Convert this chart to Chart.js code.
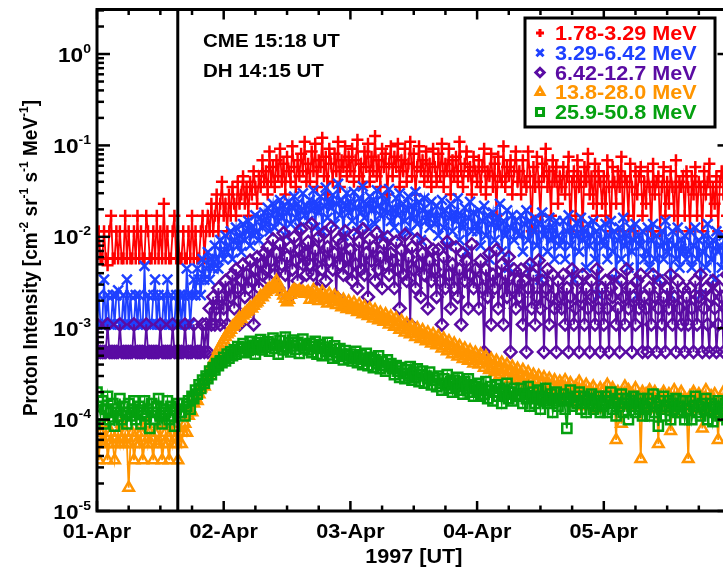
<!DOCTYPE html>
<html>
<head>
<meta charset="utf-8">
<script src="https://cdn.jsdelivr.net/npm/chart.js@4.4.1/dist/chart.umd.min.js"></script>
<style>
  html, body { margin: 0; padding: 0; background: #fff; overflow: hidden; }
  #wrap { width: 740px; height: 573px; }
</style>
</head>
<body>
<div id="wrap"><canvas id="protonChart" width="740" height="573"></canvas></div>
<script>
// 20-minute samples starting 01-Apr-1997 00:00 UT, one row = 8 hours
const STEP_H = 1 / 3;
const CME_H = 15.3;

// 1.78-3.29 MeV, units of 1e-3
const ch1 = [
  5.8, 11.5, 5.8, 5.8, 11.5, 5.8, 4.9, 11.5, 17, 5.8, 5.8, 11.5, 5.8, 11.5, 5.8, 5.8, 17, 5.8, 11.5, 5.8, 5.8, 11.5, 5.8, 17,
  5.8, 11.5, 5.8, 5.8, 17, 11.5, 5.8, 5.8, 11.5, 5.8, 17, 5.8, 11.5, 5.8, 23, 5.8, 11.5, 5.8, 5.8, 11.5, 17, 5.8, 11.5, 5.8,
  5.8, 11.5, 5.8, 5.8, 11.5, 5.8, 17, 5.8, 11.5, 5.8, 5.8, 11.5, 17, 5.8, 11.5, 17, 11.5, 23, 11.5, 17, 29, 11.5, 23, 40,
  17, 23, 11.5, 29, 17, 35, 23, 17, 40, 23, 29, 46, 23, 35, 17, 40, 29, 52, 35, 23, 46, 35, 69, 40,
  52, 29, 86, 40, 58, 35, 69, 46, 92, 40, 63, 29, 75, 52, 40, 98, 58, 35, 69, 46, 81, 52, 110, 40,
  63, 40, 86, 52, 104, 35, 69, 58, 121, 46, 75, 29, 92, 63, 40, 81, 52, 110, 35, 69, 58, 98, 46, 75,
  52, 92, 40, 69, 115, 46, 63, 35, 86, 58, 104, 40, 75, 52, 127, 46, 69, 35, 92, 58, 81, 29, 63, 98,
  46, 75, 58, 104, 35, 69, 52, 92, 40, 63, 110, 46, 81, 29, 58, 98, 52, 69, 40, 86, 46, 63, 35, 92,
  58, 40, 81, 46, 104, 35, 63, 52, 92, 29, 69, 46, 75, 40, 110, 52, 35, 63, 86, 46, 58, 29, 75, 52,
  40, 69, 35, 58, 92, 29, 52, 46, 81, 35, 63, 17, 75, 46, 40, 98, 35, 58, 46, 69, 29, 52, 86, 40,
  52, 29, 69, 40, 35, 86, 46, 11.5, 58, 35, 75, 40, 17, 63, 46, 92, 35, 52, 17, 69, 40, 58, 23, 46,
  35, 58, 29, 46, 75, 11.5, 40, 52, 17, 69, 35, 46, 11.5, 58, 40, 81, 29, 46, 23, 63, 17, 52, 40, 23,
  46, 17, 69, 35, 11.5, 58, 40, 23, 52, 35, 75, 11.5, 46, 40, 17, 63, 35, 11.5, 52, 29, 46, 58, 17, 40,
  23, 52, 35, 11.5, 63, 29, 40, 46, 11.5, 35, 58, 17, 40, 23, 52, 35, 17, 69, 11.5, 40, 35, 46, 17, 52,
  35, 11.5, 46, 29, 58, 17, 40, 35, 11.5, 52, 29, 40, 63, 17, 35, 23, 46, 11.5, 40, 52, 29, 35, 17, 46
];
// 3.29-6.42 MeV, units of 1e-4
const ch2 = [
  11, 23, 11, 11, 34, 11, 23, 11, 11, 23, 11, 23, 26, 11, 11, 23, 11, 34, 11, 23, 11, 11, 23, 11,
  23, 11, 11, 48, 11, 23, 11, 11, 23, 34, 11, 23, 11, 11, 23, 11, 34, 11, 23, 11, 11, 23, 11, 23,
  11, 23, 11, 45, 23, 11, 23, 34, 23, 45, 34, 23, 57, 34, 45, 68, 34, 57, 45, 80, 57, 45, 92, 68,
  57, 103, 68, 80, 115, 57, 92, 126, 80, 103, 68, 138, 92, 115, 149, 80, 126, 103, 172, 115, 92, 161, 126, 184,
  138, 207, 115, 172, 230, 126, 195, 149, 253, 161, 218, 103, 184, 241, 138, 207, 276, 161, 230, 126, 195, 299, 172, 218,
  149, 253, 195, 322, 126, 230, 184, 276, 115, 218, 345, 161, 241, 207, 287, 138, 230, 380, 172, 253, 103, 218, 299, 184,
  241, 149, 310, 207, 115, 264, 184, 356, 161, 230, 126, 276, 195, 253, 138, 322, 218, 172, 287, 103, 241, 184, 333, 149,
  207, 126, 264, 172, 299, 103, 230, 149, 195, 276, 115, 218, 161, 310, 138, 241, 92, 195, 264, 149, 184, 126, 241, 172,
  138, 218, 103, 172, 253, 126, 195, 80, 161, 230, 115, 184, 149, 264, 92, 172, 126, 207, 69, 161, 241, 115, 184, 138,
  115, 195, 80, 149, 218, 103, 172, 57, 138, 184, 92, 161, 126, 230, 69, 149, 103, 195, 46, 126, 172, 92, 149, 115,
  103, 172, 69, 138, 195, 92, 149, 46, 115, 161, 80, 138, 34, 184, 103, 126, 69, 161, 92, 126, 57, 149, 103, 80,
  92, 149, 57, 115, 172, 80, 126, 34, 103, 138, 69, 161, 92, 115, 46, 138, 80, 103, 149, 57, 115, 23, 126, 92,
  80, 138, 57, 103, 149, 69, 115, 34, 92, 126, 57, 161, 80, 103, 46, 126, 69, 92, 138, 23, 103, 80, 115, 57,
  69, 126, 46, 92, 138, 57, 103, 34, 80, 115, 57, 149, 69, 92, 23, 115, 80, 57, 126, 46, 92, 69, 103, 57,
  69, 115, 46, 80, 126, 57, 92, 23, 69, 103, 46, 138, 80, 57, 92, 34, 115, 69, 80, 46, 103, 57, 92, 69
];
// 6.42-12.7 MeV, units of 1e-4
const ch3 = [
  11, 5.5, 5.5, 5.5, 5.5, 5.5, 11, 5.5, 5.5, 5.5, 5.5, 5.5, 5.5, 11, 5.5, 5.5, 5.5, 5.5, 5.5, 5.5, 5.5, 11, 5.5, 5.5,
  5.5, 5.5, 5.5, 5.5, 11, 5.5, 5.5, 5.5, 5.5, 5.5, 5.5, 5.5, 11, 5.5, 5.5, 5.5, 5.5, 5.5, 5.5, 11, 5.5, 5.5, 5.5, 5.5,
  5.5, 5.5, 11, 5.5, 5.5, 5.5, 5.5, 11, 5.5, 5.5, 5.5, 5.5, 11, 5.5, 11, 5.5, 16.5, 11, 22, 11, 16.5, 27.5, 11, 22,
  16.5, 33, 11, 27.5, 22, 38.5, 16.5, 44, 27.5, 11, 33, 50, 22, 38.5, 27.5, 55, 33, 11, 44, 60, 27.5, 50, 38.5, 66,
  44, 77, 33, 55, 94, 38.5, 66, 27.5, 83, 50, 110, 38.5, 60, 22, 77, 44, 99, 55, 33, 72, 121, 50, 66, 38.5,
  88, 50, 138, 38.5, 72, 27.5, 99, 60, 44, 110, 33, 77, 55, 127, 44, 66, 22, 94, 50, 83, 38.5, 115, 60, 44,
  72, 33, 105, 50, 27.5, 88, 44, 121, 38.5, 66, 22, 94, 55, 77, 33, 110, 44, 60, 27.5, 83, 50, 99, 38.5, 66,
  55, 27.5, 88, 44, 16.5, 72, 38.5, 105, 33, 60, 11, 77, 44, 27.5, 94, 50, 22, 66, 38.5, 83, 16.5, 55, 33, 72,
  44, 22, 72, 33, 11, 60, 27.5, 88, 38.5, 16.5, 50, 27.5, 77, 22, 44, 11, 66, 33, 55, 16.5, 38.5, 83, 27.5, 44,
  33, 16.5, 55, 27.5, 5.5, 44, 22, 66, 11, 38.5, 27.5, 72, 16.5, 33, 50, 11, 38.5, 22, 60, 5.5, 27.5, 44, 16.5, 33,
  22, 44, 11, 33, 5.5, 27.5, 50, 16.5, 38.5, 11, 22, 55, 16.5, 33, 5.5, 27.5, 44, 11, 22, 38.5, 16.5, 5.5, 33, 22,
  16.5, 38.5, 11, 27.5, 5.5, 22, 44, 11, 16.5, 33, 5.5, 22, 38.5, 11, 27.5, 16.5, 5.5, 33, 22, 11, 44, 16.5, 5.5, 27.5,
  11, 33, 16.5, 5.5, 27.5, 22, 38.5, 11, 16.5, 5.5, 33, 22, 11, 44, 16.5, 27.5, 5.5, 22, 11, 33, 16.5, 38.5, 5.5, 22,
  16.5, 5.5, 27.5, 11, 38.5, 22, 5.5, 16.5, 33, 11, 22, 5.5, 27.5, 16.5, 38.5, 11, 22, 5.5, 33, 16.5, 11, 27.5, 5.5, 22,
  11, 27.5, 16.5, 5.5, 33, 11, 22, 38.5, 5.5, 16.5, 27.5, 11, 5.5, 22, 33, 16.5, 5.5, 11, 27.5, 22, 5.5, 16.5, 38.5, 11
];
// 13.8-28.0 MeV, units of 1e-5
const ch4 = [
  5.4, 3.6, 7.2, 5.4, 5.4, 9, 3.6, 5.4, 7.2, 5.4, 3.6, 5.4, 7.2, 5.4, 9, 5.4, 7.2, 5.4, 1.8, 5.4, 7.2, 3.6, 5.4, 7.2,
  5.4, 7.2, 3.6, 5.4, 9, 5.4, 7.2, 5.4, 3.6, 7.2, 5.4, 5.4, 9, 3.6, 5.4, 7.2, 5.4, 3.6, 7.2, 5.4, 9, 5.4, 3.6, 7.2,
  5.4, 7.2, 9, 7.2, 11, 13, 12, 15, 17, 16, 19, 22, 24, 23, 28, 31, 34, 39, 42, 47, 52, 58, 62, 68,
  74, 80, 86, 90, 96, 104, 108, 115, 120, 130, 126, 138, 144, 150, 156, 168, 164, 176, 186, 192, 205, 225, 218, 236,
  250, 262, 272, 268, 290, 305, 330, 298, 275, 250, 228, 210, 192, 205, 232, 250, 262, 255, 248, 258, 244, 250, 238, 242,
  250, 205, 236, 262, 215, 240, 198, 228, 250, 205, 222, 186, 238, 210, 192, 226, 180, 212, 195, 170, 205, 185, 162, 196,
  176, 158, 190, 168, 150, 182, 160, 142, 172, 152, 136, 165, 145, 128, 158, 138, 122, 148, 132, 118, 142, 125, 110, 134,
  118, 104, 128, 110, 96, 120, 102, 90, 112, 97, 86, 106, 92, 80, 100, 88, 76, 95, 84, 72, 90, 78, 68, 86,
  74, 65, 82, 70, 60, 77, 64, 56, 72, 60, 52, 68, 57, 49, 64, 54, 46, 60, 50, 44, 57, 48, 41, 54,
  46, 40, 52, 44, 37, 49, 41, 35, 46, 38, 33, 44, 36, 31, 42, 35, 30, 40, 33, 28, 38, 32, 27, 36,
  30, 26, 35, 28, 24, 33, 27, 22, 31, 26, 21, 30, 25, 20, 29, 24, 19, 28, 23, 18, 27, 22, 17, 26,
  24, 19, 27, 21, 16, 25, 20, 15, 23, 19, 26, 17, 22, 14, 24, 19, 21, 16, 23, 18, 20, 13, 22, 17,
  21, 17, 24, 19, 16, 22, 18, 6, 20, 15, 9, 19, 23, 16, 21, 14, 19, 17, 22, 15, 18, 3.7, 20, 16,
  19, 14, 21, 17, 13, 20, 16, 5.4, 18, 15, 20, 13, 17, 19, 7.5, 16, 21, 14, 18, 12, 20, 16, 17, 14,
  3.7, 18, 14, 20, 16, 13, 19, 15, 8, 17, 21, 14, 12, 18, 16, 19, 13, 6, 17, 15, 20, 14, 16, 12
];
// 25.9-50.8 MeV, units of 1e-5
const ch5 = [
  20, 14, 11, 16, 9, 13, 18, 10, 12, 15, 8.5, 13, 11, 17, 10, 14, 12, 9, 15, 11, 13, 16, 10, 12,
  14, 9, 12, 16, 11, 13, 8, 15, 12, 10, 14, 17, 11, 9, 13, 12, 16, 10, 14, 11, 8.5, 13, 15, 12,
  12, 15, 11, 14, 16, 13, 18, 17, 21, 19, 24, 22, 27, 25, 30, 28, 34, 31, 37, 35, 41, 39, 44, 42,
  48, 44, 52, 47, 55, 50, 58, 52, 63, 55, 60, 68, 54, 62, 57, 72, 59, 64, 52, 69, 61, 75, 58, 66,
  62, 71, 56, 67, 78, 60, 65, 52, 73, 63, 58, 80, 61, 69, 55, 74, 64, 59, 70, 53, 66, 76, 60, 64,
  58, 68, 54, 63, 72, 52, 60, 66, 50, 62, 56, 70, 51, 58, 47, 64, 54, 49, 60, 52, 45, 57, 50, 47,
  52, 44, 49, 56, 42, 47, 51, 40, 46, 53, 39, 44, 48, 37, 45, 41, 50, 36, 43, 39, 34, 45, 38, 41,
  36, 31, 39, 34, 29, 37, 32, 28, 35, 30, 38, 27, 33, 29, 36, 26, 31, 34, 25, 30, 28, 33, 24, 29,
  27, 23, 30, 25, 21, 28, 24, 31, 22, 26, 20, 27, 23, 29, 21, 25, 19, 26, 22, 28, 20, 24, 18, 23,
  21, 25, 18, 22, 19, 26, 17, 21, 23, 16, 20, 24, 18, 22, 15, 21, 19, 25, 17, 20, 16, 22, 18, 19,
  18, 22, 15, 19, 17, 23, 14, 18, 20, 15, 17, 21, 13, 18, 16, 22, 15, 17, 19, 12, 16, 20, 14, 17,
  16, 19, 13, 8, 17, 21, 14, 16, 18, 15, 20, 13, 16, 18, 12, 17, 15, 19, 13, 16, 14, 18, 12, 15,
  14, 18, 12, 16, 20, 13, 15, 11, 17, 14, 19, 12, 15, 17, 10, 16, 14, 18, 12, 15, 13, 17, 11, 14,
  13, 17, 11, 15, 19, 12, 14, 8.5, 16, 13, 18, 11, 14, 16, 10, 15, 13, 17, 12, 14, 12, 16, 10, 13,
  13, 16, 10, 14, 18, 12, 14, 11, 15, 13, 17, 10, 13, 15, 9.5, 14, 12, 16, 11, 13, 12, 15, 10, 13
];

const channelNames = ['1.78-3.29 MeV', '3.29-6.42 MeV', '6.42-12.7 MeV', '13.8-28.0 MeV', '25.9-50.8 MeV'];
const dayLabels = ['01-Apr', '02-Apr', '03-Apr', '04-Apr', '05-Apr'];
const decades = [0, -1, -2, -3, -4, -5];

const FONT = '"Liberation Sans", Arial, sans-serif';
const SX = 1.08;   // glyph widening

const styles = [
  { vals: ch1, unit: 1e-3, color: '#ff0000', shape: 'cross',    r: 6,   lr: 4 },
  { vals: ch2, unit: 1e-4, color: '#1e40ff', shape: 'crossRot', r: 7,   lr: 5 },
  { vals: ch3, unit: 1e-4, color: '#5a0ca3', shape: 'rectRot',  r: 6,   lr: 4.2 },
  { vals: ch4, unit: 1e-5, color: '#ff9500', shape: 'triangle', r: 6,   lr: 4.5 },
  { vals: ch5, unit: 1e-5, color: '#05a00f', shape: 'rect',     r: 6.5, lr: 5 }
];

const datasets = styles.map((s, k) => ({
  label: channelNames[k],
  data: s.vals.map((v, i) => ({ x: i * STEP_H, y: v * s.unit })),
  order: 5 - k,
  borderColor: s.color,
  backgroundColor: s.color,
  borderWidth: 1.8,
  pointStyle: s.shape,
  pointRadius: s.r,
  pointBorderColor: s.color,
  pointBackgroundColor: 'rgba(0,0,0,0)',
  pointBorderWidth: 2.5,
  tension: 0
}));

function drawParts(ctx, parts, align, size, supSize, rise) {
  const font = sup => `bold ${sup ? supSize : size}px ${FONT}`;
  let w = 0;
  parts.forEach(([t, sup]) => { ctx.font = font(sup); w += ctx.measureText(t).width; });
  let x = align === 'right' ? -w : align === 'center' ? -w / 2 : 0;
  ctx.textAlign = 'left';
  ctx.textBaseline = 'alphabetic';
  parts.forEach(([t, sup]) => {
    ctx.font = font(sup);
    ctx.fillText(t, x, sup ? -rise : 0);
    x += ctx.measureText(t).width;
  });
}

function textAt(ctx, parts, x, y, align, size, supSize, rise, vertical) {
  ctx.save();
  ctx.translate(x, y);
  if (vertical) { ctx.rotate(-Math.PI / 2); ctx.scale(1, SX); }
  else ctx.scale(SX, 1);
  drawParts(ctx, parts, align, size, supSize || size, rise || 0);
  ctx.restore();
}

function seg(ctx, x1, y1, x2, y2) {
  ctx.beginPath(); ctx.moveTo(x1, y1); ctx.lineTo(x2, y2); ctx.stroke();
}

const idlFrame = {
  id: 'idlFrame',
  afterDatasetsDraw(chart) {
    const { ctx, chartArea: ca, scales: { x: xs, y: ys } } = chart;
    ctx.save();
    ctx.strokeStyle = '#000';
    ctx.fillStyle = '#000';

    // CME onset marker
    ctx.lineWidth = 3;
    const cx = xs.getPixelForValue(CME_H);
    seg(ctx, cx, ca.top, cx, ca.bottom);

    // frame
    ctx.strokeRect(ca.left, ca.top, ca.right - ca.left, ca.bottom - ca.top);

    // log ticks on left/right, pointing inward
    ctx.lineWidth = 2.5;
    for (let e = -5; e <= 0; e++) {
      for (let m = 1; m <= 9; m++) {
        const v = m * Math.pow(10, e);
        if (v < ys.min || v > ys.max) continue;
        const py = ys.getPixelForValue(v);
        const len = m === 1 ? 13 : 7;
        seg(ctx, ca.left, py, ca.left + len, py);
        seg(ctx, ca.right, py, ca.right - len, py);
      }
    }
    // time ticks every 6 h, days major
    for (let h = 0; h <= xs.max; h += 6) {
      const px = xs.getPixelForValue(h);
      const len = h % 24 === 0 ? 10 : 5.5;
      seg(ctx, px, ca.bottom, px, ca.bottom - len);
      seg(ctx, px, ca.top, px, ca.top + len);
    }

    // y tick labels
    decades.forEach(e => {
      const py = ys.getPixelForValue(Math.pow(10, e));
      textAt(ctx, [['10', false], [String(e), true]], 91, py + 7.5, 'right', 21, 13, 9);
    });
    // x tick labels
    dayLabels.forEach((lab, d) => {
      textAt(ctx, [[lab, false]], xs.getPixelForValue(d * 24), 538, 'center', 20);
    });
    // axis titles
    textAt(ctx, [['1997 [UT]', false]], (ca.left + ca.right) / 2, 563, 'center', 20);
    textAt(ctx, [
      ['Proton Intensity [cm', false], ['-2', true], [' sr', false], ['-1', true],
      [' s', false], ['-1', true], [' MeV', false], ['-1', true], [']', false]
    ], 37, 258, 'center', 19, 12, 8, true);

    // event annotations
    textAt(ctx, [['CME 15:18 UT', false]], 203, 47, 'left', 19);
    textAt(ctx, [['DH 14:15 UT', false]], 203, 77, 'left', 19);

    // legend box
    ctx.fillStyle = '#fff';
    ctx.fillRect(525, 18, 190, 109);
    ctx.lineWidth = 3;
    ctx.strokeRect(525, 18, 190, 109);
    styles.forEach((s, k) => {
      const ly = 33 + k * 19.75;
      ctx.strokeStyle = s.color;
      ctx.fillStyle = 'rgba(0,0,0,0)';
      Chart.helpers.drawPoint(ctx, { pointStyle: s.shape, rotation: 0, radius: s.lr, borderWidth: 2 }, 540, ly);
      ctx.fillStyle = s.color;
      textAt(ctx, [[channelNames[k], false]], 555, ly + 7, 'left', 20);
    });
    ctx.restore();
  }
};

new Chart(document.getElementById('protonChart').getContext('2d'), {
  type: 'line',
  data: { datasets },
  options: {
    responsive: false,
    animation: false,
    events: [],
    layout: { padding: { left: 97, right: 7, top: 4, bottom: 62 } },
    plugins: { legend: { display: false }, tooltip: { enabled: false } },
    scales: {
      x: { type: 'linear', min: 0, max: 120, display: false },
      y: { type: 'logarithmic', min: 1e-5, max: 3.07, display: false }
    }
  },
  plugins: [idlFrame]
});
</script>
</body>
</html>
